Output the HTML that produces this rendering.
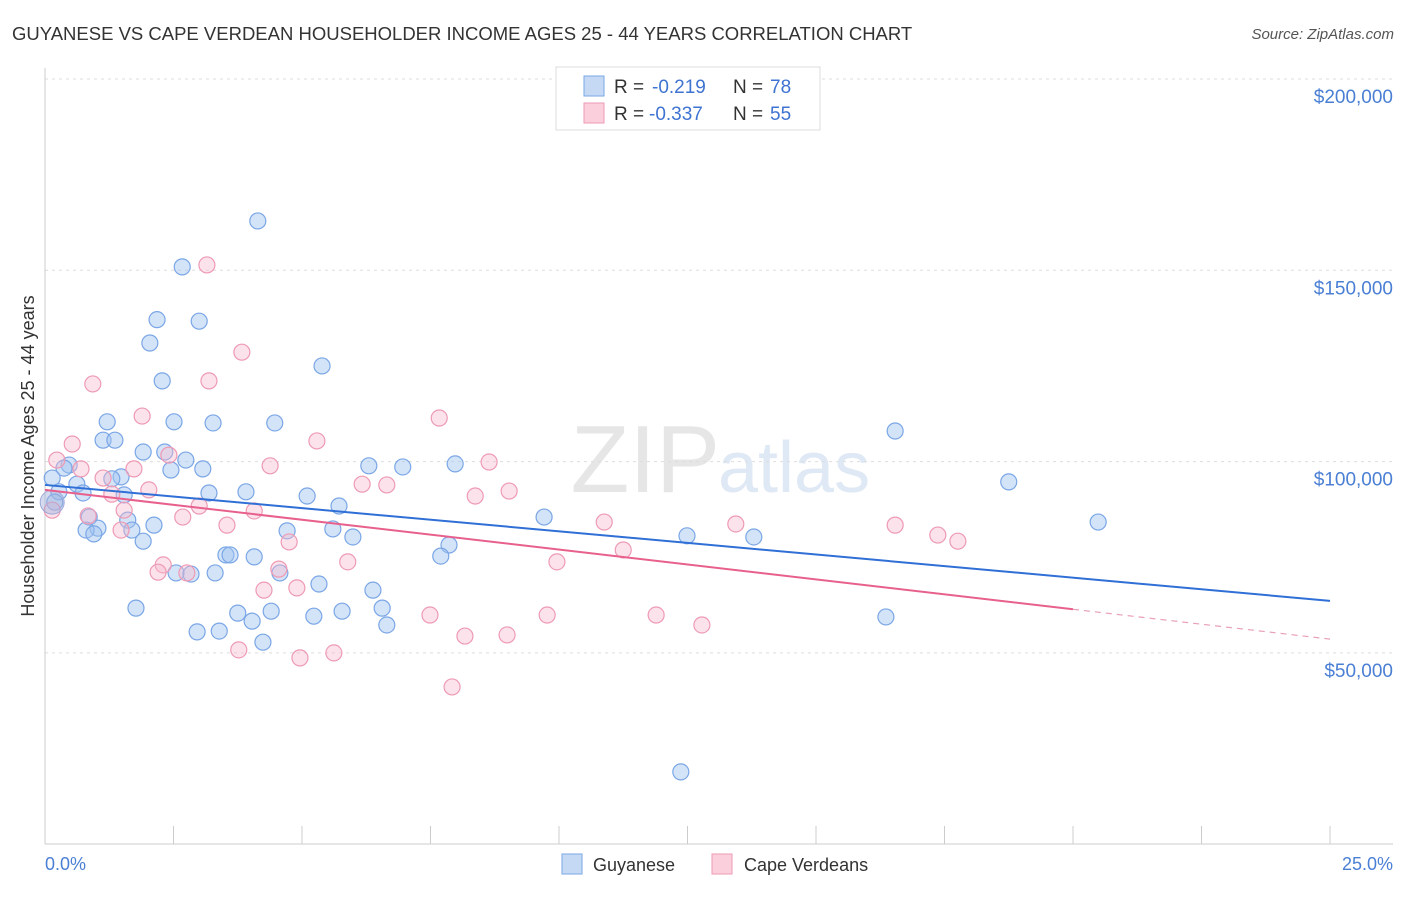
<!DOCTYPE html>
<html><head><meta charset="utf-8"><style>
body{margin:0;background:#fff;font-family:"Liberation Sans",sans-serif}
svg text{font-family:"Liberation Sans",sans-serif}
</style></head><body>
<svg id="chart" width="1406" height="892" xmlns="http://www.w3.org/2000/svg">
<text x="12" y="40" font-size="18.5" fill="#333">GUYANESE VS CAPE VERDEAN HOUSEHOLDER INCOME AGES 25 - 44 YEARS CORRELATION CHART</text>
<text x="1394" y="39" font-size="15" fill="#555" font-style="italic" text-anchor="end">Source: ZipAtlas.com</text>
<text x="720" y="492" font-size="96" fill="#e6e6e6" font-family="Liberation Serif" text-anchor="end">ZIP</text>
<text x="718" y="492" font-size="72" fill="#dfe8f5">atlas</text>
<g id="grid"></g><g id="axes"></g><g id="pts"></g><g id="lines"></g>
<text transform="translate(34,456) rotate(-90)" font-size="18" fill="#333" text-anchor="middle">Householder Income Ages 25 - 44 years</text>
<text x="45" y="870" font-size="18" fill="#4a7fd4">0.0%</text>
<text x="1393" y="870" font-size="18" fill="#4a7fd4" text-anchor="end">25.0%</text>
<g>
<rect x="556" y="67" width="264" height="63" fill="#fff" stroke="#ddd"/>
<rect x="584" y="76" width="20" height="20" fill="#c5d9f5" stroke="#7aa6e6"/>
<rect x="584" y="103" width="20" height="20" fill="#fbd0dc" stroke="#ee9ab4"/>
<text x="614" y="93" font-size="19" fill="#333">R =</text>
<text x="652" y="93" font-size="19" fill="#3f73d1">-0.219</text>
<text x="733" y="93" font-size="19" fill="#333">N =</text>
<text x="770" y="93" font-size="19" fill="#3f73d1">78</text>
<text x="614" y="120" font-size="19" fill="#333">R =</text>
<text x="649" y="120" font-size="19" fill="#3f73d1">-0.337</text>
<text x="733" y="120" font-size="19" fill="#333">N =</text>
<text x="770" y="120" font-size="19" fill="#3f73d1">55</text>
</g>
<g>
<rect x="562" y="854" width="20" height="20" fill="#c5d9f5" stroke="#7aa6e6"/>
<text x="593" y="871" font-size="18" fill="#333">Guyanese</text>
<rect x="712" y="854" width="20" height="20" fill="#fbd0dc" stroke="#ee9ab4"/>
<text x="744" y="871" font-size="18" fill="#333">Cape Verdeans</text>
</g>
</svg>
<script>
const yTicks=[50,100,150,200];
const yTickLabels=["$50,000","$100,000","$150,000","$200,000"];
const xTicks=[0,2.5,5,7.5,10,12.5,15,17.5,20,22.5,25];
const guyX=[4.14,2.67,2.18,3.00,2.04,5.39,2.28,1.21,2.51,3.27,4.47,1.13,1.36,1.91,2.33,2.74,0.47,0.37,2.45,3.07,6.30,6.96,7.98,16.54,18.75,20.49,0.14,0.62,0.27,0.74,1.54,3.19,3.91,5.10,5.72,1.48,1.30,0.19,0.86,1.61,2.12,1.03,0.80,0.95,1.69,1.91,4.71,5.60,5.99,9.71,12.49,13.79,7.86,7.70,3.52,3.60,4.07,4.57,3.31,2.55,2.84,5.33,6.38,1.77,3.75,4.40,5.78,5.23,6.56,4.03,6.65,2.96,3.39,4.24,16.36,12.37];
const guyY=[162.9,150.9,137.1,136.7,131,125,121.1,110.4,110.4,110.1,110.1,105.6,105.6,102.5,102.5,100.4,99.1,98.3,97.8,98.1,98.9,98.6,99.4,108,94.7,84.2,95.7,94.1,92.1,91.8,91.3,91.8,92.1,91.0,88.4,96.0,95.5,89.4,85.5,84.7,83.4,82.6,82.1,81.1,82.1,79.2,81.9,82.4,80.3,85.5,80.6,80.3,78.2,75.3,75.6,75.6,75.1,70.9,70.9,70.9,70.6,68,66.4,61.7,60.4,60.9,60.9,59.6,61.7,58.3,57.3,55.5,55.7,52.8,59.4,18.9];
const capeX=[3.15,3.83,0.93,3.19,1.89,7.67,0.53,5.29,2.41,0.23,0.70,1.73,4.38,8.64,1.13,2.02,6.17,6.65,8.37,9.03,1.30,3.00,1.54,2.68,4.07,0.84,3.54,1.48,10.88,13.44,16.54,17.37,17.76,4.75,11.25,2.30,5.89,9.96,2.20,2.76,4.55,4.26,4.90,7.49,9.77,11.89,12.78,8.17,8.99,3.77,4.96,5.62,7.92,0.14];
const capeY=[151.4,128.6,120.3,121.1,111.9,111.4,104.6,105.4,101.7,100.4,98.1,98.1,98.9,99.9,95.7,92.6,94.1,93.9,91.0,92.3,91.5,88.4,87.3,85.5,87.1,85.8,83.4,82.1,84.2,83.7,83.4,80.8,79.2,79.0,76.9,73.0,73.8,73.8,71.1,70.9,71.9,66.4,67.0,59.9,59.9,59.9,57.3,54.4,54.7,50.8,48.7,50.0,41.1,87.3];
const guyTrend=[93.9,63.6];
const capeTrend=[92.6,53.6];
const capeSolidEnd=20;
const NS="http://www.w3.org/2000/svg";
const xs=v=>45+v*51.4;
const ys=v=>79+(200-v)*3.826;
function mk(p,t,a){const e=document.createElementNS(NS,t);for(const k in a)e.setAttribute(k,a[k]);document.getElementById(p).appendChild(e);return e;}
yTicks.forEach((t,i)=>{
 const l=mk('grid','line',{x1:45,x2:1393,y1:ys(t),y2:ys(t),stroke:'#ddd','stroke-dasharray':'3,4'});
 
 
 const tx=mk('grid','text',{x:1393,y:ys(t)+24,'font-size':19,fill:'#4a7fd4','text-anchor':'end'});
 tx.textContent=yTickLabels[i];
 
 
});
mk('axes','line',{x1:45,x2:45,y1:68,y2:844,stroke:'#ccc'});
mk('axes','line',{x1:45,x2:1393,y1:844,y2:844,stroke:'#ccc'});
xTicks.forEach(t=>{const l=mk('axes','line',{x1:xs(t),x2:xs(t),y1:826,y2:844,stroke:'#ccc'});
 
 });
guyX.forEach((x,i)=>{const c=mk('pts','circle',{cx:xs(x),cy:ys(guyY[i]),r:8,fill:'rgba(160,195,240,0.45)',stroke:'#7aa6e6','stroke-width':1.2});
 
 });
capeX.forEach((x,i)=>{const c=mk('pts','circle',{cx:xs(x),cy:ys(capeY[i]),r:8,fill:'rgba(248,185,205,0.4)',stroke:'#ee9ab4','stroke-width':1.2});
 
 });
const big=mk('pts','circle',{cx:xs(0.14),cy:ys(89.4),r:12,fill:'rgba(160,175,220,0.45)',stroke:'#a0a8d8'});


const gl=mk('lines','line',{x1:xs(0),y1:ys(guyTrend[0]),x2:xs(25),y2:ys(guyTrend[1]),stroke:'#2f6fd6','stroke-width':2});


const cy=t=>capeTrend[0]+(capeTrend[1]-capeTrend[0])*t/25;
const cl=mk('lines','line',{x1:xs(0),y1:ys(cy(0)),x2:xs(capeSolidEnd),y2:ys(cy(capeSolidEnd)),stroke:'#e8608c','stroke-width':2});


const cd=mk('lines','line',{x1:xs(capeSolidEnd),y1:ys(cy(capeSolidEnd)),x2:xs(25),y2:ys(cy(25)),stroke:'#e8a0b8','stroke-width':1.2,'stroke-dasharray':'6,5'});


</script>
</body></html>
